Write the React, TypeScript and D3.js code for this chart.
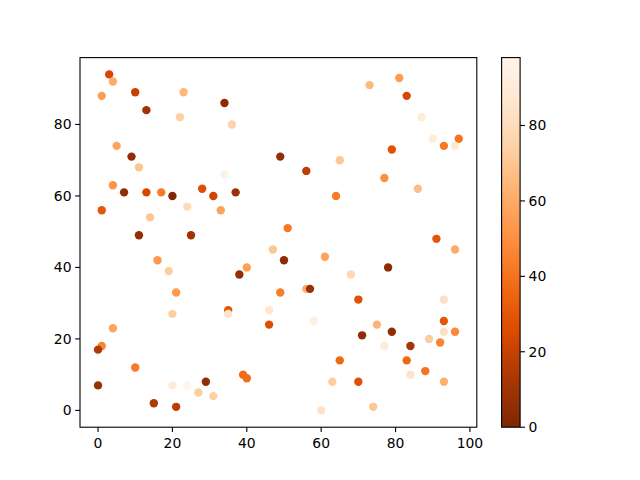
import * as d3 from 'd3';

// scatter points: x, y and colour value
const xs = [3, 4, 1, 10, 13, 23, 22, 34, 36, 5, 9, 11, 34, 49, 4, 7, 13, 17, 20, 28, 31, 37, 1, 24, 33, 14, 11, 25, 51,
  73, 81, 83, 87, 90, 97, 93, 96, 79, 56, 65, 77, 86, 64, 91, 96,
  47, 50, 16, 19, 40, 38, 21, 49, 20, 35, 35, 46, 46, 4, 1, 0, 10, 0, 20, 24, 29, 39, 40, 27, 31, 15, 21,
  61, 78, 68, 56, 57, 70, 58, 93, 93, 93, 96, 75, 71, 79, 77, 84, 89, 92, 65, 83, 88, 84, 63, 70, 93, 60, 74];
const ys = [94, 92, 88, 89, 84, 89, 82, 86, 80, 74, 71, 68, 66, 71, 63, 61, 61, 61, 60, 62, 60, 61, 56, 57, 56, 54, 49, 49, 51,
  91, 93, 88, 82, 76, 76, 74, 74, 73, 67, 70, 65, 62, 60, 48, 45,
  45, 42, 42, 39, 40, 38, 33, 33, 27, 28, 27, 28, 24, 23, 18, 17, 12, 7, 7, 7, 8, 10, 9, 5, 4, 2, 1,
  43, 40, 38, 34, 34, 31, 25, 31, 25, 22, 22, 24, 21, 22, 18, 18, 20, 19, 14, 14, 11, 10, 8, 8, 8, 0, 1];
const cs = [24, 60, 55, 20, 10, 65, 74, 4, 75, 58, 6, 69, 95, 6, 52, 6, 24, 43, 0, 27, 22, 8, 30, 80, 57, 70, 6, 10, 42,
  65, 55, 24, 90, 90, 40, 42, 88, 28, 18, 70, 50, 67, 43, 30, 60,
  70, 4, 54, 73, 56, 6, 54, 44, 73, 30, 84, 86, 27, 58, 46, 15, 43, 8, 90, 98, 6, 38, 38, 73, 74, 14, 18,
  57, 4, 78, 61, 8, 28, 93, 82, 30, 82, 48, 63, 5, 5, 90, 12, 72, 46, 36, 36, 40, 84, 73, 28, 62, 84, 70];

const xTicks = [0, 20, 40, 60, 80, 100];
const yTicks = [0, 20, 40, 60, 80];
const cTicks = [0, 20, 40, 60, 80];

// matplotlib "Oranges" (ColorBrewer 9), reversed below
const ORANGES = ['#fff5eb', '#fee6ce', '#fdd0a2', '#fdae6b', '#fd8d3c', '#f16913', '#d94801', '#a63603', '#7f2704'];

const W = 640;
const H = 480;
const left = 80;
const right = 476.8;
const top = 57.6;
const bottom = 427.2;
const cbX = 501.6;
const cbW = 18.5;
const font = 'DejaVu Sans, sans-serif';
const fs = 13.9;

export default function App() {
  const [x0, x1] = d3.extent(xs) as [number, number];
  const [y0, y1] = d3.extent(ys) as [number, number];
  const xPad = (x1 - x0) * 0.05;
  const yPad = (y1 - y0) * 0.05;
  const x = d3.scaleLinear().domain([x0 - xPad, x1 + xPad]).range([left, right]);
  const y = d3.scaleLinear().domain([y0 - yPad, y1 + yPad]).range([bottom, top]);

  const cMax = d3.max(cs) as number;
  const cMin = d3.min(cs) as number;
  const oranges = d3
    .scaleLinear<string>()
    .domain(d3.range(ORANGES.length).map((i) => i / (ORANGES.length - 1)))
    .range(ORANGES)
    .interpolate(d3.interpolateRgb);
  const color = (v: number) => oranges(1 - (v - cMin) / (cMax - cMin));
  const cy = d3.scaleLinear().domain([cMin, cMax]).range([bottom, top]);

  const stops = d3.range(0, 1.0001, 0.02);

  return (
    <svg
      width={W}
      height={H}
      style={{ position: 'absolute', left: 0, top: 0, background: '#fff' }}
      fontFamily={font}
      fontSize={fs}
    >
      <defs>
        <linearGradient id="cbar" x1="0" y1="1" x2="0" y2="0">
          {stops.map((t) => (
            <stop key={t} offset={t} stopColor={color(cMin + t * (cMax - cMin))} />
          ))}
        </linearGradient>
      </defs>
      <rect width={W} height={H} fill="#fff" />

      {/* points */}
      {xs.map((xv, i) => (
        <circle key={i} cx={x(xv)} cy={y(ys[i])} r={4.2} fill={color(cs[i])} />
      ))}

      {/* frame */}
      <rect x={left} y={top} width={right - left} height={bottom - top} fill="none" stroke="#000" strokeWidth={1.1} />

      {/* x axis */}
      {xTicks.map((t) => (
        <g key={t} transform={`translate(${x(t)},${bottom})`}>
          <line y2={4.9} stroke="#000" strokeWidth={1.1} />
          <text y={21} textAnchor="middle" fill="#000">{t}</text>
        </g>
      ))}

      {/* y axis */}
      {yTicks.map((t) => (
        <g key={t} transform={`translate(${left},${y(t)})`}>
          <line x2={-4.9} stroke="#000" strokeWidth={1.1} />
          <text x={-8.5} dy="0.35em" textAnchor="end" fill="#000">{t}</text>
        </g>
      ))}

      {/* colorbar */}
      <rect x={cbX} y={top} width={cbW} height={bottom - top} fill="url(#cbar)" />
      <rect x={cbX} y={top} width={cbW} height={bottom - top} fill="none" stroke="#000" strokeWidth={1.1} />
      {cTicks.map((t) => (
        <g key={t} transform={`translate(${cbX + cbW},${cy(t)})`}>
          <line x2={4.9} stroke="#000" strokeWidth={1.1} />
          <text x={8.5} dy="0.35em" textAnchor="start" fill="#000">{t}</text>
        </g>
      ))}
    </svg>
  );
}
